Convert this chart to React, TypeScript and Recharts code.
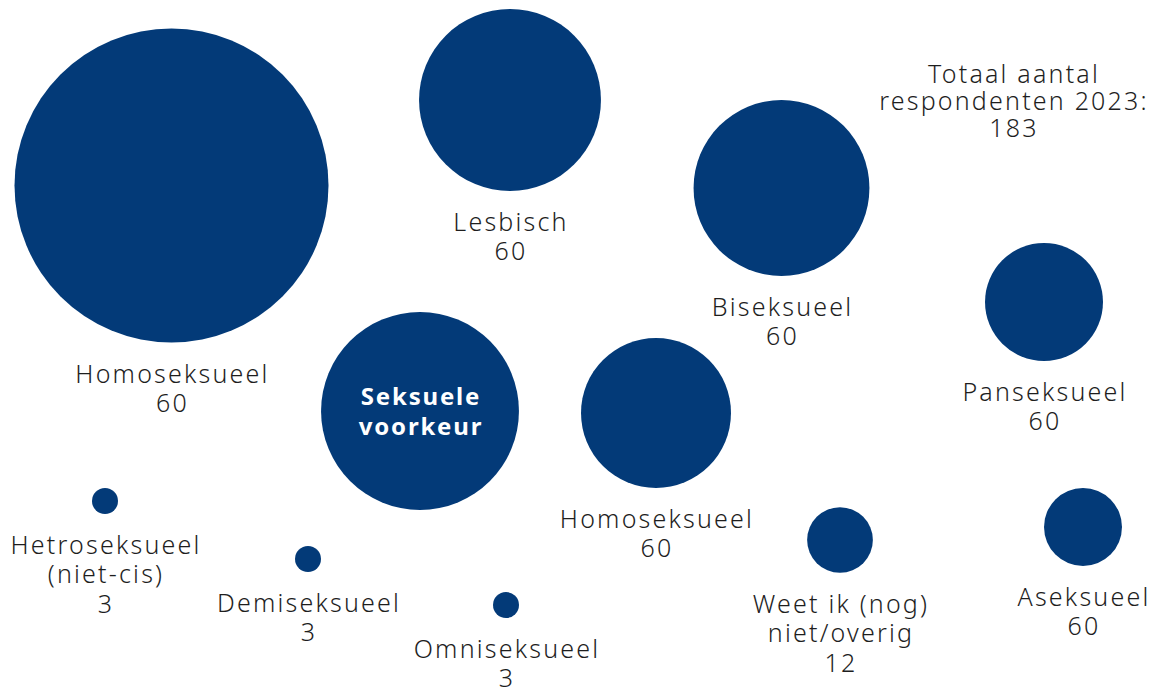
import { ScatterChart, Scatter, XAxis, YAxis, ZAxis } from "recharts";

// bubble labels (lines), x / y position in the layout grid, bubble weight (area)
const labels: string[][] = [
  ["Homoseksueel", "60"],
  ["Lesbisch", "60"],
  ["Biseksueel", "60"],
  ["Panseksueel", "60"],
  ["Seksuele", "voorkeur"],
  ["Homoseksueel", "60"],
  ["Hetroseksueel", "(niet-cis)", "3"],
  ["Demiseksueel", "3"],
  ["Omniseksueel", "3"],
  ["Weet ik (nog)", "niet/overig", "12"],
  ["Aseksueel", "60"],
];
const xs = [171.5, 510, 781.5, 1044, 420, 656, 105, 308, 506, 840, 1083];
const ys = [185.5, 100, 188, 302, 411, 413, 501, 559, 605, 540, 527];
const weights = [146, 49, 45.8, 20.6, 58, 33.3, 1, 1, 1, 6.4, 9];
const centerIndex = 4;

const totalLines = ["Totaal aantal", "respondenten 2023:", "183"];
const totalX = 1013;
const totalY = 83;

const W = 1161;
const H = 697;
const BLUE = "#033a78";
const TEXT = "#1e1e1e";
const FONT = "'Noto Sans', sans-serif";

const data = labels.map((lines, i) => ({
  x: xs[i],
  y: ys[i],
  w: weights[i],
  lines,
  center: i === centerIndex,
}));

const totalData = [{ x: totalX, y: totalY, w: 0, lines: totalLines }];

const labelStyle = {
  fontFamily: FONT,
  fontWeight: 300,
  fontSize: 25,
  letterSpacing: 2.2,
};

function Bubble(props: any) {
  const { cx, cy, size, payload } = props;
  const r = Math.sqrt(Math.max(size, 0) / Math.PI);
  const lines: string[] = payload.lines;
  if (payload.center) {
    return (
      <g>
        <circle cx={cx} cy={cy} r={r} fill={BLUE} />
        {lines.map((t, i) => (
          <text
            key={i}
            x={cx + 1}
            y={cy - 6 + i * 30}
            textAnchor="middle"
            fill="#fff"
            fontFamily={FONT}
            fontWeight={700}
            fontSize={24}
            letterSpacing={1.8}
          >
            {t}
          </text>
        ))}
      </g>
    );
  }
  return (
    <g>
      <circle cx={cx} cy={cy} r={r} fill={BLUE} />
      {lines.map((t, i) => (
        <text
          key={i}
          x={cx + 1}
          y={cy + r + 40 + i * 29.5}
          textAnchor="middle"
          fill={TEXT}
          style={labelStyle}
        >
          {t}
        </text>
      ))}
    </g>
  );
}

function TotalNote(props: any) {
  const { cx, cy, payload } = props;
  return (
    <g>
      {payload.lines.map((t: string, i: number) => (
        <text
          key={i}
          x={cx + 1}
          y={cy + i * 27}
          textAnchor="middle"
          fill={TEXT}
          style={labelStyle}
        >
          {t}
        </text>
      ))}
    </g>
  );
}

export default function App() {
  return (
    <div style={{ position: "absolute", left: 0, top: 0, background: "#fff" }}>
      <ScatterChart width={W} height={H} margin={{ top: 0, right: 0, bottom: 0, left: 0 }}>
        <XAxis type="number" dataKey="x" domain={[0, W]} hide />
        <YAxis type="number" dataKey="y" domain={[0, H]} reversed hide />
        <ZAxis type="number" dataKey="w" domain={[0, 146]} range={[0, Math.PI * 157 * 157]} />
        <Scatter data={data} shape={<Bubble />} isAnimationActive={false} />
        <Scatter data={totalData} shape={<TotalNote />} isAnimationActive={false} />
      </ScatterChart>
    </div>
  );
}
